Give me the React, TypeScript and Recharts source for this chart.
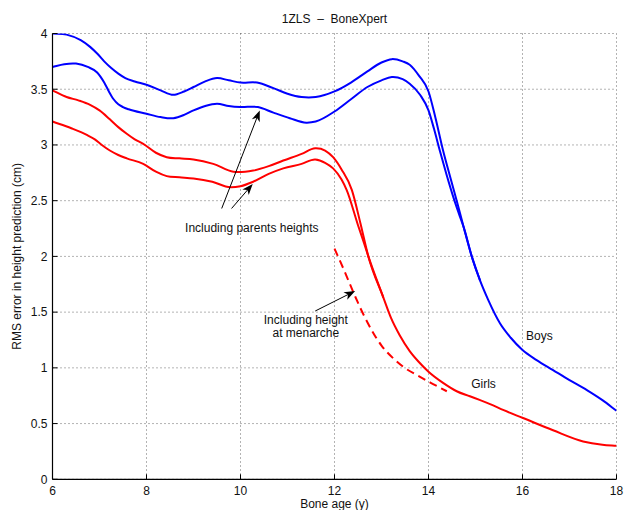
import React from 'react';
import { LineChart, Line, XAxis, YAxis, CartesianGrid, ReferenceLine, ReferenceDot, Label } from 'recharts';

const FONT = '"Liberation Sans", Arial, Helvetica, sans-serif';

const xTicks = [6, 8, 10, 12, 14, 16, 18];
const yTicks = [0, 0.5, 1, 1.5, 2, 2.5, 3, 3.5, 4];

const titleText = '1ZLS  \u2013  BoneXpert';
const xLabelText = 'Bone age (y)';
const yLabelText = 'RMS error in height prediction (cm)';

// Boys, without parents heights (upper blue)
const boysAge = [6.0, 6.3, 6.6, 6.8, 6.95, 7.1, 7.25, 7.4, 7.55, 7.75, 8.0, 8.3, 8.57, 8.8, 9.0, 9.25, 9.5, 9.75, 10.0, 10.35, 10.7, 11.0, 11.3, 11.6, 12.0, 12.35, 12.7, 13.0, 13.22, 13.45, 13.6, 13.8, 14.0, 14.15, 14.31, 14.45, 14.6, 14.75, 14.92, 15.1, 15.27, 15.52, 15.75, 16.0, 16.3, 16.65, 17.0, 17.37, 17.7, 18.0];
const boysRms = [4.0, 3.99, 3.94, 3.88, 3.82, 3.75, 3.69, 3.64, 3.60, 3.57, 3.54, 3.49, 3.45, 3.48, 3.52, 3.57, 3.60, 3.58, 3.56, 3.56, 3.51, 3.46, 3.43, 3.43, 3.48, 3.56, 3.66, 3.74, 3.77, 3.75, 3.72, 3.62, 3.48, 3.24, 2.95, 2.73, 2.50, 2.26, 2.00, 1.78, 1.61, 1.40, 1.27, 1.16, 1.07, 0.98, 0.89, 0.80, 0.71, 0.615];

// Boys, including parents heights (lower blue)
const boysParAge = [6.0, 6.25, 6.5, 6.75, 6.95, 7.1, 7.2, 7.3, 7.4, 7.5, 7.62, 8.0, 8.3, 8.57, 8.8, 9.0, 9.25, 9.5, 9.75, 10.0, 10.37, 10.7, 11.05, 11.4, 11.6, 12.0, 12.35, 12.7, 13.0, 13.22, 13.45, 13.6, 13.82, 14.0, 14.12, 14.24, 14.38, 14.53, 14.65, 14.75, 14.92, 15.1];
const boysParRms = [3.70, 3.725, 3.73, 3.70, 3.65, 3.56, 3.48, 3.41, 3.365, 3.34, 3.32, 3.28, 3.25, 3.24, 3.27, 3.31, 3.35, 3.37, 3.35, 3.34, 3.34, 3.29, 3.24, 3.20, 3.21, 3.30, 3.41, 3.52, 3.58, 3.61, 3.59, 3.55, 3.45, 3.31, 3.14, 2.95, 2.74, 2.53, 2.38, 2.26, 2.00, 1.78];

// Girls, without parents heights (upper red)
const girlsAge = [6.0, 6.3, 6.55, 6.8, 7.0, 7.22, 7.4, 7.58, 7.75, 7.93, 8.2, 8.43, 8.7, 9.0, 9.42, 9.85, 10.1, 10.27, 10.6, 10.91, 11.3, 11.59, 11.8, 11.97, 12.15, 12.37, 12.55, 12.72, 13.04, 13.2, 13.39, 13.6, 13.8, 14.0, 14.31, 14.6, 14.88, 15.1, 15.31, 15.6, 16.01, 16.65, 17.29, 17.7, 18.0];
const girlsRms = [3.49, 3.43, 3.40, 3.36, 3.31, 3.23, 3.16, 3.10, 3.05, 3.01, 2.93, 2.89, 2.88, 2.87, 2.83, 2.76, 2.76, 2.77, 2.81, 2.86, 2.92, 2.97, 2.95, 2.89, 2.78, 2.595, 2.30, 2.00, 1.63, 1.45, 1.29, 1.15, 1.05, 0.965, 0.865, 0.79, 0.745, 0.71, 0.675, 0.62, 0.55, 0.44, 0.34, 0.31, 0.30];

// Girls, including parents heights (lower red)
const girlsParAge = [6.0, 6.4, 6.73, 6.9, 7.05, 7.22, 7.4, 7.58, 7.93, 8.2, 8.43, 8.7, 9.0, 9.4, 9.78, 10.0, 10.27, 10.6, 10.91, 11.3, 11.59, 11.8, 11.97, 12.15, 12.26, 12.5, 12.62, 12.72, 13.04];
const girlsParRms = [3.21, 3.15, 3.09, 3.05, 3.00, 2.95, 2.91, 2.88, 2.83, 2.76, 2.72, 2.71, 2.70, 2.67, 2.62, 2.63, 2.67, 2.74, 2.79, 2.83, 2.87, 2.84, 2.79, 2.69, 2.595, 2.28, 2.13, 2.00, 1.63];

// Girls, including height at menarche (dashed red)
const menarcheAge = [12.0, 12.2, 12.44, 12.65, 13.0, 13.29, 13.46, 13.82, 14.03, 14.39];
const menarcheRms = [2.07, 1.88, 1.64, 1.45, 1.20, 1.07, 1.01, 0.92, 0.87, 0.79];

// Annotations (data coordinates)
const arrowParentsBoys = [{ x: 9.6, y: 2.43 }, { x: 10.41, y: 3.31 }];
const arrowParentsGirls = [{ x: 9.81, y: 2.43 }, { x: 10.26, y: 2.65 }];
const arrowMenarche = [{ x: 11.59, y: 1.51 }, { x: 12.44, y: 1.69 }];
const textParents = { x: 10.24, y: 2.26, lines: ['Including parents heights'] };
const textMenarche = { x: 11.39, y: 1.37, lines: ['Including height', 'at menarche'] };
const textBoys = { x: 16.36, y: 1.29, lines: ['Boys'] };
const textGirls = { x: 15.17, y: 0.86, lines: ['Girls'] };

const toPoints = (xs: number[], ys: number[]) => xs.map((x, i) => ({ x, y: ys[i] }));

// Smooth cubic Hermite curve in x (Bessel tangents), passes through every point
const smoothX = (context: any) => {
  let xs: number[] = [];
  let ys: number[] = [];
  return {
    areaStart() {},
    areaEnd() {},
    lineStart() {
      xs = [];
      ys = [];
    },
    point(x: number, y: number) {
      xs.push(+x);
      ys.push(+y);
    },
    lineEnd() {
      const n = xs.length;
      if (!n) return;
      context.moveTo(xs[0], ys[0]);
      if (n === 1) return;
      const h: number[] = [];
      const d: number[] = [];
      for (let i = 0; i < n - 1; i++) {
        h.push(xs[i + 1] - xs[i] || 1e-6);
        d.push((ys[i + 1] - ys[i]) / (xs[i + 1] - xs[i] || 1e-6));
      }
      const m: number[] = [];
      for (let i = 0; i < n; i++) {
        if (i === 0) m.push(d[0]);
        else if (i === n - 1) m.push(d[n - 2]);
        else m.push((d[i - 1] * h[i] + d[i] * h[i - 1]) / (h[i - 1] + h[i]));
      }
      for (let i = 0; i < n - 1; i++) {
        const dx = h[i] / 3;
        context.bezierCurveTo(xs[i] + dx, ys[i] + m[i] * dx, xs[i + 1] - dx, ys[i + 1] - m[i + 1] * dx, xs[i + 1], ys[i + 1]);
      }
    },
  };
};

const TICK_LEN = 5;

const BottomTick = (p: any) => (
  <g>
    <line x1={p.x} y1={p.y} x2={p.x} y2={p.y - TICK_LEN} stroke="#000" strokeWidth={1} />
    <text x={p.x} y={p.y + 16} textAnchor="middle" fontFamily={FONT} fontSize={12} fill="#111">{p.payload.value}</text>
  </g>
);
const TopTick = (p: any) => (
  <line x1={p.x} y1={p.y} x2={p.x} y2={p.y + TICK_LEN} stroke="#000" strokeWidth={1} />
);
const LeftTick = (p: any) => (
  <g>
    <line x1={p.x} y1={p.y} x2={p.x + TICK_LEN} y2={p.y} stroke="#000" strokeWidth={1} />
    <text x={p.x - 5} y={p.y + 4.3} textAnchor="end" fontFamily={FONT} fontSize={12} fill="#111">{p.payload.value}</text>
  </g>
);
const RightTick = (p: any) => (
  <line x1={p.x} y1={p.y} x2={p.x - TICK_LEN} y2={p.y} stroke="#000" strokeWidth={1} />
);

const XLabelContent = (p: any) => {
  const vb = p.viewBox;
  return (
    <text x={vb.x + vb.width / 2} y={vb.y + 29} textAnchor="middle" fontFamily={FONT} fontSize={12} fill="#111">
      {xLabelText}
    </text>
  );
};
const YLabelContent = (p: any) => {
  const vb = p.viewBox;
  const cx = 21;
  const cy = vb.y + vb.height / 2;
  return (
    <text x={cx} y={cy} textAnchor="middle" fontFamily={FONT} fontSize={12} fill="#111" transform={`rotate(-90 ${cx} ${cy})`}>
      {yLabelText}
    </text>
  );
};

const Arrow = (p: any) => {
  const { x1, y1, x2, y2 } = p;
  const dx = x2 - x1;
  const dy = y2 - y1;
  const len = Math.hypot(dx, dy) || 1;
  const ux = dx / len;
  const uy = dy / len;
  const nx = -uy;
  const ny = ux;
  const L = 11;
  const W = 4.2;
  const back = 8;
  const bx = x2 - ux * L;
  const by = y2 - uy * L;
  const pts = [
    [x2, y2],
    [bx + nx * W, by + ny * W],
    [x2 - ux * back, y2 - uy * back],
    [bx - nx * W, by - ny * W],
  ].map((q) => q.join(',')).join(' ');
  return (
    <g>
      <line x1={x1} y1={y1} x2={x2 - ux * 5} y2={y2 - uy * 5} stroke="#000" strokeWidth={1} />
      <polygon points={pts} fill="#000" />
    </g>
  );
};

const makeTextShape = (lines: string[]) => (p: any) => (
  <text x={p.cx} y={p.cy} textAnchor="middle" fontFamily={FONT} fontSize={12} fill="#111">
    {lines.map((l, i) => (
      <tspan key={i} x={p.cx} dy={i === 0 ? 4.3 - ((lines.length - 1) * 13) / 2 : 13}>{l}</tspan>
    ))}
  </text>
);

const BLUE = '#0000ff';
const RED = '#ff0000';

export default function App() {
  const notes = [textParents, textMenarche, textBoys, textGirls];
  const arrows = [arrowParentsBoys, arrowParentsGirls, arrowMenarche];
  return (
    <div style={{ position: 'absolute', left: 0, top: 0, width: 625, height: 510 }}>
      <div style={{ position: 'absolute', left: 52.5, top: 11, width: 564, textAlign: 'center', fontFamily: FONT, fontSize: 12, lineHeight: '16px', color: '#111', whiteSpace: 'pre' }}>
        {titleText}
      </div>
      <LineChart width={625} height={510} margin={{ top: 33.5, right: 8.5, bottom: 0, left: 0 }}>
        <CartesianGrid xAxisId="b" yAxisId="l" stroke="#000" strokeDasharray="1 3" strokeWidth={0.8} strokeOpacity={0.75} />
        <XAxis xAxisId="b" orientation="bottom" type="number" dataKey="x" domain={[6, 18]} ticks={xTicks}
          allowDataOverflow height={30.7} tickSize={0} tickMargin={0} tickLine={false} tick={<BottomTick />}
          axisLine={{ stroke: '#000', strokeWidth: 1.2 }}>
          <Label content={<XLabelContent />} />
        </XAxis>
        <XAxis xAxisId="t" orientation="top" type="number" dataKey="x" domain={[6, 18]} ticks={xTicks}
          allowDataOverflow height={0} tickSize={0} tickMargin={0} tickLine={false} tick={<TopTick />}
          axisLine={{ stroke: '#000', strokeWidth: 1.2 }} />
        <YAxis yAxisId="l" orientation="left" type="number" domain={[0, 4]} ticks={yTicks}
          allowDataOverflow width={52.5} tickSize={0} tickMargin={0} tickLine={false} tick={<LeftTick />}
          axisLine={{ stroke: '#000', strokeWidth: 1.2 }}>
          <Label content={<YLabelContent />} />
        </YAxis>
        <YAxis yAxisId="r" orientation="right" type="number" domain={[0, 4]} ticks={yTicks}
          allowDataOverflow width={0} tickSize={0} tickMargin={0} tickLine={false} tick={<RightTick />}
          axisLine={{ stroke: '#000', strokeWidth: 1.2 }} />

        <Line xAxisId="b" yAxisId="l" data={toPoints(boysAge, boysRms)} dataKey="y" type={smoothX as any} stroke={BLUE} strokeWidth={2} dot={false} activeDot={false} isAnimationActive={false} />
        <Line xAxisId="b" yAxisId="l" data={toPoints(boysParAge, boysParRms)} dataKey="y" type={smoothX as any} stroke={BLUE} strokeWidth={2} dot={false} activeDot={false} isAnimationActive={false} />
        <Line xAxisId="b" yAxisId="l" data={toPoints(girlsAge, girlsRms)} dataKey="y" type={smoothX as any} stroke={RED} strokeWidth={2} dot={false} activeDot={false} isAnimationActive={false} />
        <Line xAxisId="b" yAxisId="l" data={toPoints(girlsParAge, girlsParRms)} dataKey="y" type={smoothX as any} stroke={RED} strokeWidth={2} dot={false} activeDot={false} isAnimationActive={false} />
        <Line xAxisId="b" yAxisId="l" data={toPoints(menarcheAge, menarcheRms)} dataKey="y" type={smoothX as any} stroke={RED} strokeWidth={2} strokeDasharray="8 5" dot={false} activeDot={false} isAnimationActive={false} />

        {arrows.map((seg, i) => (
          <ReferenceLine key={`a${i}`} xAxisId="b" yAxisId="l" segment={seg} ifOverflow="visible" shape={<Arrow />} />
        ))}
        {notes.map((n, i) => (
          <ReferenceDot key={`t${i}`} xAxisId="b" yAxisId="l" x={n.x} y={n.y} r={0} ifOverflow="visible" shape={makeTextShape(n.lines)} />
        ))}
      </LineChart>
    </div>
  );
}
